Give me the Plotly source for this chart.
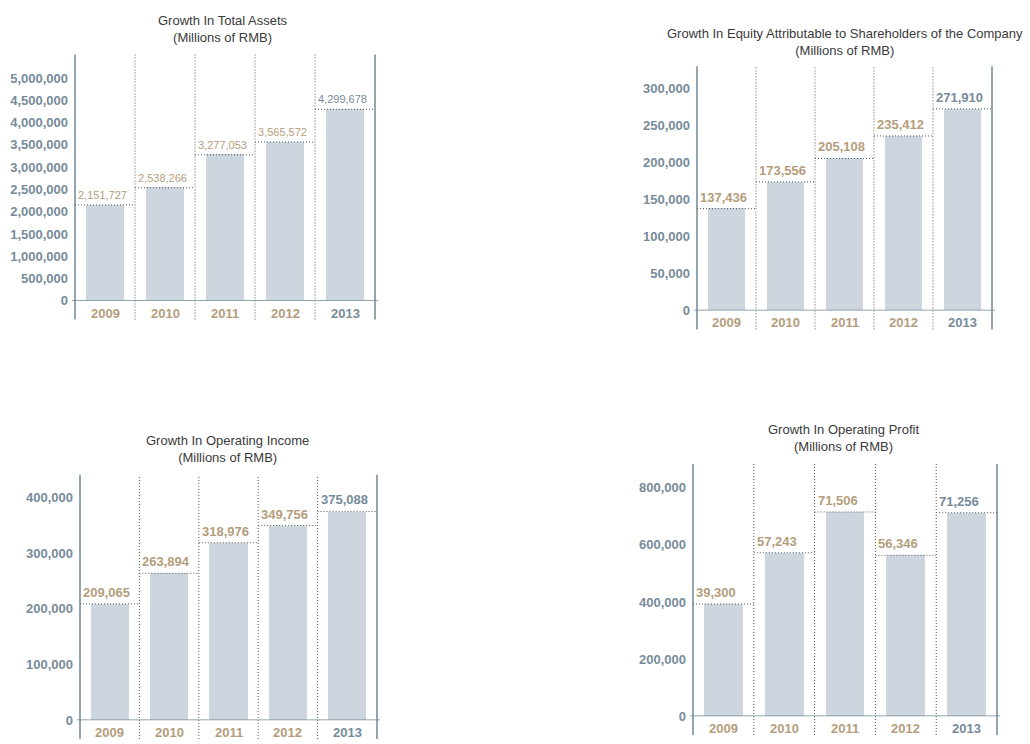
import plotly.graph_objects as go

years = ["2009", "2010", "2011", "2012", "2013"]

assets_vals = [2151727, 2538266, 3277053, 3565572, 4299678]
equity_vals = [137436, 173556, 205108, 235412, 271910]
income_vals = [209065, 263894, 318976, 349756, 375088]
profit_vals = [39300, 57243, 71506, 56346, 71256]

assets_ticks = [0, 500000, 1000000, 1500000, 2000000, 2500000, 3000000, 3500000, 4000000, 4500000, 5000000]
assets_ticktext = ["0", "500,000", "1,000,000", "1,500,000", "2,000,000", "2,500,000", "3,000,000",
                   "3,500,000", "4,000,000", "4,500,000", "5,000,000"]
equity_ticks = [0, 50000, 100000, 150000, 200000, 250000, 300000]
equity_ticktext = ["0", "50,000", "100,000", "150,000", "200,000", "250,000", "300,000"]
income_ticks = [0, 100000, 200000, 300000, 400000]
income_ticktext = ["0", "100,000", "200,000", "300,000", "400,000"]
# the original chart labels this axis 0..800,000 although the bars are drawn in units 10x smaller
profit_ticks = [0, 20000, 40000, 60000, 80000]
profit_ticktext = ["0", "200,000", "400,000", "600,000", "800,000"]

titles = ["Growth In Total Assets<br>(Millions of RMB)",
          "Growth In Equity Attributable to Shareholders of the Company<br>(Millions of RMB)",
          "Growth In Operating Income<br>(Millions of RMB)",
          "Growth In Operating Profit<br>(Millions of RMB)"]

W, H = 1030, 744
BAR = "#cdd6de"
TAN = "#b49d7c"
BLUE = "#778b9a"
AXIS = "#6f8797"
SEP = "#555555"
FONT = "Liberation Sans, Arial, sans-serif"
DOT = "1px,2px"

panels = [
    dict(vals=assets_vals, ticks=assets_ticks, tt=assets_ticktext, l=75, r=375, top=55, base=304,
         refpx=79, refval=5000000, tx=223, ty=29, lblsize=11, lblbold=False),
    dict(vals=equity_vals, ticks=equity_ticks, tt=equity_ticktext, l=697, r=992, top=67, base=314,
         refpx=89, refval=300000, tx=845, ty=42, lblsize=13, lblbold=True),
    dict(vals=income_vals, ticks=income_ticks, tt=income_ticktext, l=80, r=377, top=480, base=728,
         refpx=503, refval=400000, tx=227, ty=454, lblsize=13, lblbold=True),
    dict(vals=profit_vals, ticks=profit_ticks, tt=profit_ticktext, l=693, r=997, top=469, base=724,
         refpx=493, refval=80000, tx=843, ty=443, lblsize=13, lblbold=True),
]

fig = go.Figure()
shapes = []
annotations = []
layout = {}

for k, p in enumerate(panels):
    n = k + 1
    xa = "x" if n == 1 else f"x{n}"
    ya = "y" if n == 1 else f"y{n}"
    xkey = "xaxis" if n == 1 else f"xaxis{n}"
    ykey = "yaxis" if n == 1 else f"yaxis{n}"
    ymax = p["refval"] * (p["base"] - p["top"]) / (p["base"] - p["refpx"])
    hpx = p["base"] - p["top"]
    xs = list(range(len(years)))

    fig.add_trace(go.Bar(x=xs, y=p["vals"], xaxis=xa, yaxis=ya, width=0.64,
                         marker=dict(color=BAR, line=dict(width=0)), showlegend=False,
                         hoverinfo="skip"))

    layout[xkey] = dict(domain=[p["l"] / W, p["r"] / W], range=[-0.5, len(years) - 0.5],
                        showgrid=False, zeroline=False, showticklabels=False, ticks="",
                        showline=False, anchor=ya, fixedrange=True)
    layout[ykey] = dict(domain=[1 - p["base"] / H, 1 - p["top"] / H], range=[0, ymax],
                        tickvals=p["ticks"], ticktext=[f"<b>{t}</b>" for t in p["tt"]],
                        showgrid=False, zeroline=False,
                        showline=False, ticks="", ticklabelstandoff=6,
                        tickfont=dict(family=FONT, size=13, color=BLUE), anchor=xa, fixedrange=True)

    ext = 19 / hpx
    xd = f"{xa} domain"
    yd = f"{ya} domain"
    for xv in (0, 1):
        shapes.append(dict(type="line", xref=xd, yref=yd, x0=xv, x1=xv, y0=-ext, y1=1,
                           line=dict(color=AXIS, width=1.5)))
    for i in range(len(years) - 1):
        shapes.append(dict(type="line", xref=xa, yref=yd, x0=i + 0.5, x1=i + 0.5, y0=-ext, y1=1,
                           line=dict(color=SEP, width=1, dash=DOT)))
    shapes.append(dict(type="line", xref=xd, yref=ya, x0=-0.01, x1=1.01, y0=0, y1=0,
                       line=dict(color=AXIS, width=1.5)))
    for i, v in enumerate(p["vals"]):
        col = BLUE if i == len(years) - 1 else TAN
        shapes.append(dict(type="line", xref=xa, yref=ya, x0=i - 0.5, x1=i + 0.5, y0=v, y1=v,
                           line=dict(color=SEP, width=1, dash=DOT)))
        txt = f"{v:,}"
        if p["lblbold"]:
            txt = f"<b>{txt}</b>"
        annotations.append(dict(xref=xa, yref=ya, x=i - 0.5, y=v, xanchor="left", yanchor="bottom",
                                text=txt, showarrow=False, yshift=2, xshift=1,
                                font=dict(family=FONT, size=p["lblsize"], color=col)))
        annotations.append(dict(xref=xa, yref=yd, x=i, y=-12.5 / hpx, xanchor="center", yanchor="middle",
                                text=f"<b>{years[i]}</b>", showarrow=False,
                                font=dict(family=FONT, size=13, color=col)))
    annotations.append(dict(xref="paper", yref="paper", x=p["tx"] / W, y=1 - p["ty"] / H,
                            xanchor="center", yanchor="middle", text=titles[k], showarrow=False,
                            align="center",
                            font=dict(family=FONT, size=13, color="#3a3a3a")))

fig.update_layout(width=W, height=H, margin=dict(l=0, r=0, t=0, b=0),
                  paper_bgcolor="white", plot_bgcolor="white", bargap=0,
                  shapes=shapes, annotations=annotations, **layout)

fig.write_html("out.html", config={"displayModeBar": False},
               post_script="document.body.style.margin='0';")
